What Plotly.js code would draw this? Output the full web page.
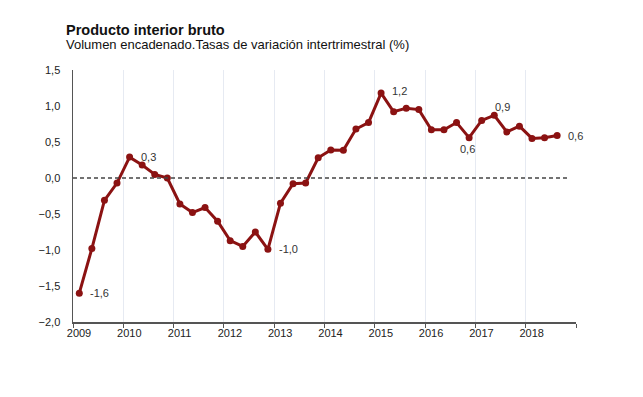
<!DOCTYPE html>
<html>
<head>
<meta charset="utf-8">
<script src="https://cdn.plot.ly/plotly-3.0.1.min.js"></script>
<style>html,body{margin:0;padding:0;background:#fff;}#chart{width:643px;height:397px;}</style>
</head>
<body>
<div id="chart"></div>
<script>
// Quarterly data 2009Q1 .. 2018Q3
const years = [2009,2010,2011,2012,2013,2014,2015,2016,2017,2018];
const quarters = [1,2,3,4];
const values = [
  -1.60, -0.98, -0.31, -0.07,   // 2009
   0.29,  0.18,  0.05,  0.00,   // 2010
  -0.36, -0.48, -0.41, -0.60,   // 2011
  -0.87, -0.95, -0.75, -0.99,   // 2012
  -0.35, -0.08, -0.07,  0.28,   // 2013
   0.39,  0.385, 0.68,  0.77,   // 2014
   1.18,  0.92,  0.97,  0.95,   // 2015
   0.67,  0.67,  0.77,  0.56,   // 2016
   0.80,  0.87,  0.64,  0.72,   // 2017
   0.55,  0.56,  0.59           // 2018
];
const tickYears = [2009,2010,2011,2012,2013,2014,2015,2016,2017,2018];
const tickLabels = ['2009','2010','2011','2012','2013','2014','2015','2016','2017','2018'];
// labelled points: index, label text, placement
const labelIdx = [0, 4, 15, 24, 31, 33, 38];
const labelText = ['-1,6','0,3','-1,0','1,2','0,6','0,9','0,6'];
const labelPos = ['right','right','right','rightup','below','aboveright','right'];

// x positions: middle of each quarter
const xs = [];
for (let i = 0; i < values.length; i++) {
  const y = years[Math.floor(i/4)];
  const q = quarters[i%4];
  xs.push(y + (q-1)/4 + 0.125);
}

const red = '#8b1212';
const trace = {
  x: xs, y: values, type: 'scatter', mode: 'lines+markers',
  line: {color: red, width: 3},
  marker: {color: red, size: 7},
  hoverinfo: 'skip'
};

const anns = labelIdx.map((idx, k) => {
  const p = labelPos[k];
  const a = {x: xs[idx], y: values[idx], xref: 'x', yref: 'y', text: labelText[k],
    showarrow: false, font: {family: 'Liberation Sans, Arial, sans-serif', size: 11, color: '#333'}};
  if (p === 'right') { a.xanchor = 'left'; a.yanchor = 'middle'; a.xshift = 9; }
  else if (p === 'rightup') { a.xanchor = 'left'; a.yanchor = 'middle'; a.xshift = 9; a.yshift = 2; }
  else if (p === 'below') { a.xanchor = 'center'; a.yanchor = 'middle'; a.xshift = -2; a.yshift = -11; }
  else if (p === 'aboveright') { a.xanchor = 'center'; a.yanchor = 'middle'; a.xshift = 8; a.yshift = 8; }
  return a;
});

anns.push({xref: 'paper', yref: 'paper', x: -0.018, y: 1.159, xanchor: 'left', yanchor: 'middle',
  text: '<b>Producto interior bruto</b>', showarrow: false,
  font: {family: 'Liberation Sans, Arial, sans-serif', size: 14.5, color: '#111'}});
anns.push({xref: 'paper', yref: 'paper', x: -0.018, y: 1.103, xanchor: 'left', yanchor: 'middle',
  text: 'Volumen encadenado.Tasas de variación intertrimestral (%)', showarrow: false,
  font: {family: 'Liberation Sans, Arial, sans-serif', size: 13, color: '#111'}});

const layout = {
  width: 643, height: 397,
  margin: {l: 73, r: 67, t: 70, b: 75, pad: 0},
  paper_bgcolor: '#fff', plot_bgcolor: '#fff',
  separators: ',.',
  showlegend: false,
  font: {family: 'Liberation Sans, Arial, sans-serif', size: 11, color: '#222'},
  xaxis: {
    range: [2009, 2019], tickvals: tickYears.concat([2019]), ticktext: tickLabels.concat(['']),
    showgrid: true, gridcolor: '#e6eaf2', gridwidth: 1,
    showline: true, linecolor: '#555', linewidth: 1.5,
    ticks: 'outside', ticklen: 4, tickcolor: '#555', tickwidth: 1,
    ticklabelshift: 6, ticklabelstandoff: -4,
    zeroline: false, fixedrange: true
  },
  yaxis: {
    range: [-2, 1.5], dtick: 0.5, tick0: -2, tickformat: '.1f',
    showgrid: false, zeroline: false,
    showline: true, linecolor: '#555', linewidth: 1.5,
    ticks: '', ticklabelstandoff: 9, fixedrange: true
  },
  shapes: [{type: 'line', xref: 'x', yref: 'y', x0: 2009, x1: 2018.85, y0: 0, y1: 0,
    line: {color: '#444', width: 1.5, dash: '4px,3px'}}],
  annotations: anns
};

Plotly.newPlot('chart', [trace], layout, {displayModeBar: false, staticPlot: true});
</script>
</body>
</html>
